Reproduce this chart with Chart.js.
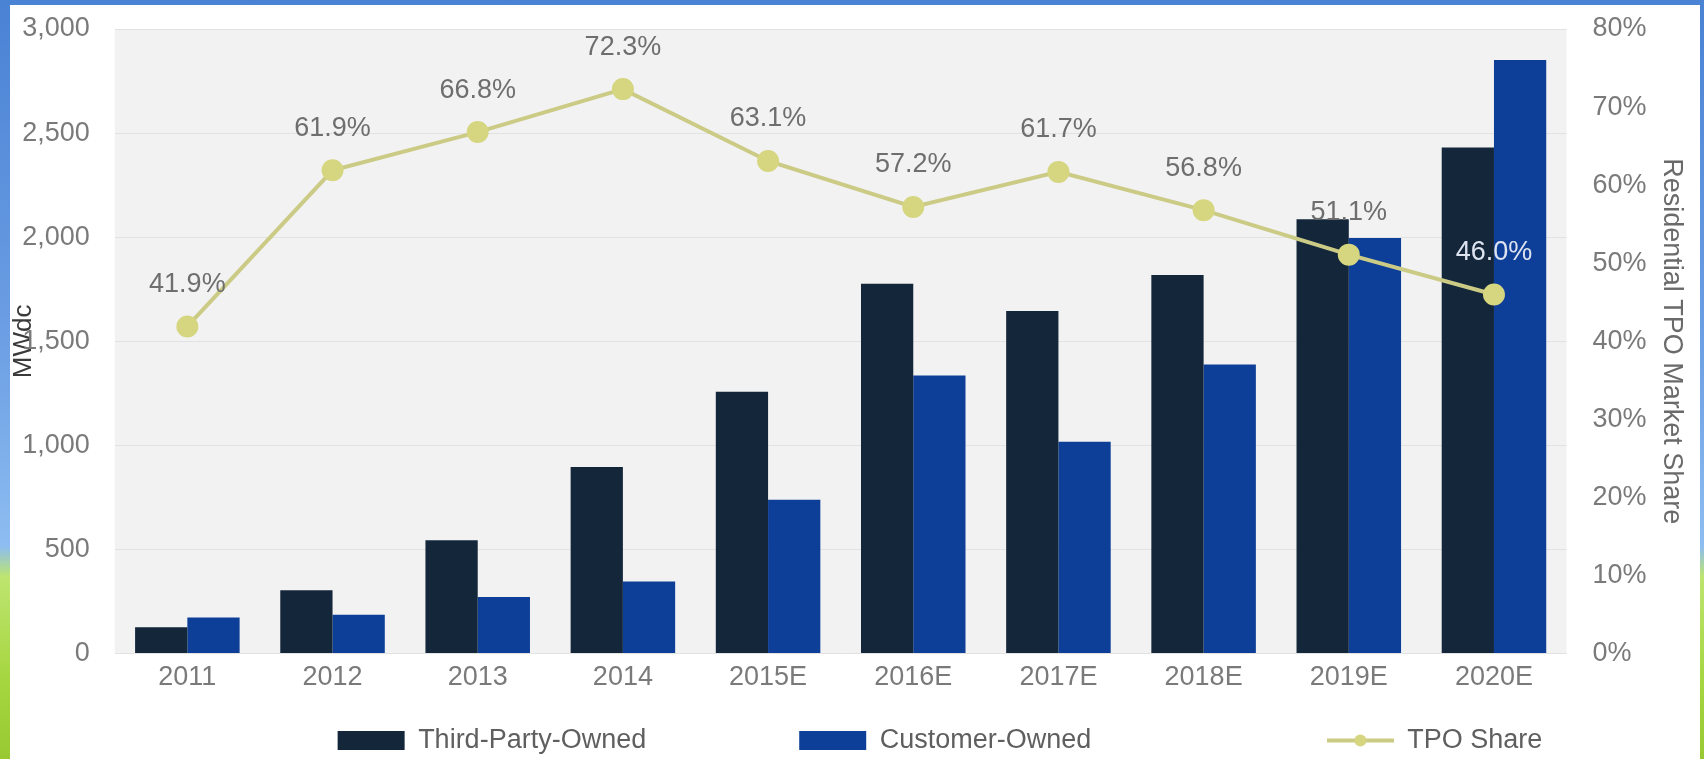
<!DOCTYPE html>
<html lang="en">
<head>
  <meta charset="UTF-8">
  <title>Residential Solar: Third-Party vs Customer-Owned</title>
  <script src="https://cdn.jsdelivr.net/npm/chart.js"></script>
  <style>
    * { margin: 0; padding: 0; box-sizing: border-box; }

    html, body {
      width: 1704px;
      height: 759px;
      overflow: hidden;
    }

    /* slide frame: blue fading to green down the edges */
    body {
      position: relative;
      background: linear-gradient(to bottom, #4a82d4 0%, #6c9fe4 45%, #8dbdf1 72%, #bde56f 76%, #a5d53f 90%, #98c932 100%);
    }

    .panel {
      position: absolute;
      left: 10px;
      top: 5px;
      width: 1690px;
      height: 759px;
      background: #fff;
    }
  </style>
</head>
<body>
  <div class="panel">
    <canvas id="ownershipChart"></canvas>
  </div>

  <script>
    // Data (MWdc installed, TPO share in %)
    const years = ['2011', '2012', '2013', '2014', '2015E', '2016E', '2017E', '2018E', '2019E', '2020E'];
    const thirdPartyOwned = [126, 304, 545, 896, 1258, 1776, 1645, 1818, 2086, 2431];
    const customerOwned = [173, 187, 272, 346, 739, 1336, 1017, 1389, 1996, 2851];
    const tpoShare = [41.9, 61.9, 66.8, 72.3, 63.1, 57.2, 61.7, 56.8, 51.1, 46.0];
    const mwTicks = [0, 500, 1000, 1500, 2000, 2500, 3000];
    const shareTicks = [0, 10, 20, 30, 40, 50, 60, 70, 80];

    const DARK = '#13263a';
    const BLUE = '#0e3f98';
    const LINE = '#cbcb86';
    const POINT = '#d6d580';
    const TICK = '#7a7a7a';
    const HALF_LABEL = 16; // half a tick label line, room kept above/below the value axes

    Chart.defaults.font.family = '"Liberation Sans", Arial, sans-serif';
    Chart.defaults.font.size = 27;
    Chart.defaults.color = TICK;

    // little line-with-dot icon for the TPO Share legend entry
    const lineIcon = document.createElement('canvas');
    lineIcon.width = 67;
    lineIcon.height = 19;
    const ic = lineIcon.getContext('2d');
    ic.strokeStyle = LINE;
    ic.lineWidth = 4;
    ic.beginPath();
    ic.moveTo(0, 9.5);
    ic.lineTo(67, 9.5);
    ic.stroke();
    ic.fillStyle = POINT;
    ic.beginPath();
    ic.arc(33.5, 9.5, 6, 0, Math.PI * 2);
    ic.fill();

    // grey plot background
    const plotBackground = {
      id: 'plotBackground',
      beforeDraw(chart) {
        const { ctx, chartArea: a } = chart;
        ctx.save();
        ctx.fillStyle = '#f2f2f2';
        ctx.fillRect(a.left, a.top, a.width, a.height);
        ctx.restore();
      }
    };

    // percentage labels above the share line
    const shareLabels = {
      id: 'shareLabels',
      afterDatasetsDraw(chart) {
        const { ctx } = chart;
        const line = chart.getDatasetMeta(2);
        const tpoBars = chart.getDatasetMeta(0);
        const coBars = chart.getDatasetMeta(1);
        ctx.save();
        ctx.font = '27px "Liberation Sans", Arial, sans-serif';
        ctx.textAlign = 'center';
        ctx.textBaseline = 'middle';
        line.data.forEach((pt, i) => {
          const y = pt.y - 42;
          // light text when it sits on top of the bars
          const onBars = y > Math.max(tpoBars.data[i].y, coBars.data[i].y);
          ctx.fillStyle = onBars ? '#dde4f0' : '#6e6e6e';
          ctx.fillText(tpoShare[i].toFixed(1) + '%', pt.x, y);
        });
        ctx.restore();
      }
    };

    // push the legend row a bit to the right, like the original slide
    const legendNudge = {
      id: 'legendNudge',
      afterLayout(chart) {
        chart.legend.left += 168;
      }
    };

    const legendGaps = [' '.repeat(16), ' '.repeat(27), ''];

    // Chart.js counts tick padding twice in an axis' size; keep it once
    function trimValueAxis(scale) {
      scale.width -= scale.options.ticks.padding;
      scale.paddingTop = HALF_LABEL;
      scale.paddingBottom = HALF_LABEL;
    }

    new Chart(document.getElementById('ownershipChart'), {
      data: {
        labels: years,
        datasets: [
          {
            type: 'bar',
            label: 'Third-Party-Owned',
            data: thirdPartyOwned,
            backgroundColor: DARK,
            yAxisID: 'y',
            order: 1,
            categoryPercentage: 0.72,
            barPercentage: 1.0
          },
          {
            type: 'bar',
            label: 'Customer-Owned',
            data: customerOwned,
            backgroundColor: BLUE,
            yAxisID: 'y',
            order: 1,
            categoryPercentage: 0.72,
            barPercentage: 1.0
          },
          {
            type: 'line',
            label: 'TPO Share',
            data: tpoShare,
            yAxisID: 'y1',
            order: 0,
            borderColor: LINE,
            borderWidth: 4,
            backgroundColor: POINT,
            pointBackgroundColor: POINT,
            pointBorderColor: POINT,
            pointRadius: 9,
            tension: 0
          }
        ]
      },
      options: {
        responsive: true,
        maintainAspectRatio: false,
        animation: false,
        layout: { padding: { top: 24, left: 2, right: 0, bottom: 0 } },
        plugins: {
          tooltip: { enabled: false },
          legend: {
            position: 'bottom',
            labels: {
              usePointStyle: true,
              pointStyleWidth: 67,
              boxHeight: 19,
              padding: 33,
              color: '#5f5f5f',
              font: { size: 27 },
              generateLabels(chart) {
                const items = Chart.defaults.plugins.legend.labels.generateLabels(chart);
                items.sort((a, b) => a.datasetIndex - b.datasetIndex);
                items.forEach((item, i) => {
                  item.pointStyle = item.datasetIndex === 2 ? lineIcon : 'rect';
                  item.text += legendGaps[i];
                });
                return items;
              }
            }
          }
        },
        scales: {
          x: {
            grid: { display: false },
            border: { display: false },
            ticks: { padding: 0, color: TICK }
          },
          y: {
            position: 'left',
            min: 0,
            max: 3000,
            afterBuildTicks: (scale) => { scale.ticks = mwTicks.map(v => ({ value: v })); },
            afterFit: trimValueAxis,
            grid: { color: '#e2e2e2', drawTicks: false },
            border: { display: false },
            ticks: {
              padding: 25,
              color: TICK,
              callback: (v) => v.toLocaleString('en-US')
            },
            title: {
              display: true,
              text: 'MWdc',
              color: '#3a3a3a',
              font: { size: 26 },
              padding: { top: -4, bottom: -17 }
            }
          },
          y1: {
            position: 'right',
            min: 0,
            max: 80,
            afterBuildTicks: (scale) => { scale.ticks = shareTicks.map(v => ({ value: v })); },
            afterFit: trimValueAxis,
            grid: { display: false, drawTicks: false },
            border: { display: false },
            ticks: {
              padding: 26,
              color: TICK,
              callback: (v) => v + '%'
            },
            title: {
              display: true,
              text: 'Residential TPO Market Share',
              color: '#6a6a6a',
              font: { size: 27 },
              padding: { top: 12, bottom: 9 }
            }
          }
        }
      },
      plugins: [plotBackground, shareLabels, legendNudge]
    });
  </script>
</body>
</html>
